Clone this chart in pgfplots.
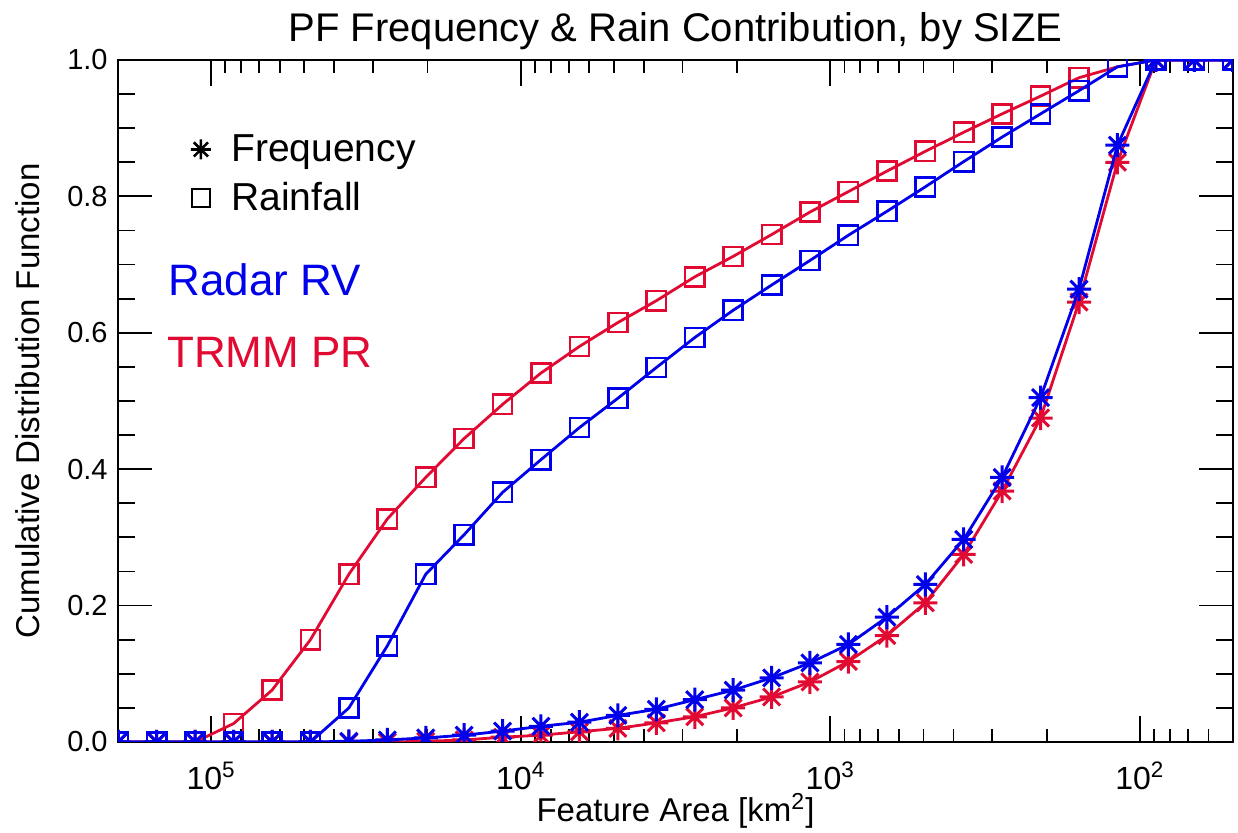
\documentclass[border=0pt]{standalone}
\usepackage{fontspec}
\setmainfont{Liberation Sans}
\usepackage{pgfplots}
\usepackage{pgfplotstable}
\pgfplotsset{compat=1.18}
\definecolor{rvblue}{RGB}{0,0,235}
\definecolor{prred}{RGB}{225,10,50}

\pgfdeclareplotmark{ast8}{%
 \pgfpathmoveto{\pgfqpoint{0pt}{-\pgfplotmarksize}}\pgfpathlineto{\pgfqpoint{0pt}{\pgfplotmarksize}}%
 \pgfpathmoveto{\pgfqpoint{-\pgfplotmarksize}{0pt}}\pgfpathlineto{\pgfqpoint{\pgfplotmarksize}{0pt}}%
 \pgfpathmoveto{\pgfqpoint{-0.707\pgfplotmarksize}{-0.707\pgfplotmarksize}}\pgfpathlineto{\pgfqpoint{0.707\pgfplotmarksize}{0.707\pgfplotmarksize}}%
 \pgfpathmoveto{\pgfqpoint{-0.707\pgfplotmarksize}{0.707\pgfplotmarksize}}\pgfpathlineto{\pgfqpoint{0.707\pgfplotmarksize}{-0.707\pgfplotmarksize}}%
 \pgfusepathqstroke}

\pgfplotstableread{
x       bf     rf     br     rr
199526  0      0      0      0
149920  0      0      0      0
112640  0      0      0      0
84640   0      0      0      0.027
63590   0      0      0      0.076
47777   0      0      0      0.150
35897   0.001  0      0.050  0.246
26971   0.003  0      0.141  0.327
20264   0.006  0.001  0.246  0.388
15225   0.010  0.003  0.304  0.445
11443   0.016  0.007  0.366  0.495
8600    0.023  0.010  0.414  0.541
6460    0.029  0.015  0.461  0.580
4854    0.039  0.020  0.504  0.615
3647    0.048  0.028  0.549  0.647
2740    0.062  0.037  0.593  0.682
2059    0.076  0.050  0.633  0.712
1547    0.094  0.066  0.670  0.744
1163    0.116  0.088  0.706  0.777
873.8   0.143  0.118  0.743  0.807
656.4   0.183  0.156  0.778  0.837
493.2   0.231  0.204  0.814  0.866
370.6   0.297  0.275  0.851  0.894
278.4   0.388  0.368  0.887  0.921
209.2   0.505  0.475  0.921  0.947
157.2   0.664  0.645  0.955  0.974
118.1   0.875  0.850  0.990  0.990
88.77   1      1      1      1
66.70   1      1      1      1
50.12   1      1      1      1
}\cdf

\begin{document}
\begin{tikzpicture}
\begin{axis}[
  name=ax, scale only axis, width=557.5pt, height=341pt,
  xmode=log, x dir=reverse, xmin=50, xmax=2e5, ymin=0, ymax=1,
  clip marker paths=true,
  xtick={1e5,1e4,1e3,1e2},
  xticklabels={10\textsuperscript{5},10\textsuperscript{4},10\textsuperscript{3},10\textsuperscript{2}},
  minor xtick={60,70,80,90,200,300,400,500,600,700,800,900,2000,3000,4000,5000,6000,7000,8000,9000,20000,30000,40000,50000,60000,70000,80000,90000},
  ytick={0,0.2,0.4,0.6,0.8,1.0}, minor y tick num=3,
  /pgf/number format/assume math mode=true,
  yticklabel style={/pgf/number format/fixed, /pgf/number format/fixed zerofill, /pgf/number format/precision=1, anchor=east, inner sep=0pt, xshift=-5pt, font=\fontsize{14.5}{17}\selectfont},
  xticklabel style={anchor=base, yshift=-24pt, font=\fontsize{16}{19}\selectfont},
  tick align=inside,
  axis line style={line width=1pt},
  xtick style={black, line width=0.9pt, /pgfplots/major tick length=13pt, /pgfplots/minor tick length=6.5pt},
  ytick style={black, line width=0.9pt, /pgfplots/major tick length=17pt, /pgfplots/minor tick length=8.5pt},
  title={PF Frequency \& Rain Contribution, by SIZE},
  title style={font=\fontsize{20}{24}\selectfont, at={(axis description cs:0.5,1)}, anchor=base, yshift=3pt},
  xlabel={Feature Area [km\textsuperscript{2}]},
  xlabel style={font=\fontsize{16.5}{20}\selectfont, at={(axis description cs:0.5,0)}, anchor=base, yshift=-40pt},
  ylabel={Cumulative Distribution Function},
  ylabel style={font=\fontsize{16.5}{20}\selectfont, at={(axis description cs:-0.081,0.5)}, anchor=center},
  legend style={at={(axis description cs:0.045,0.903)}, anchor=north west, draw=none, fill=none,
    font=\fontsize{19.5}{23}\selectfont, row sep=5pt},
  legend cell align=left,
  legend image code/.code={\path (0cm,0cm) (0.6cm+8pt,0cm); \draw[#1] plot coordinates {(0.3cm+4pt,0cm)};},
]
\addlegendimage{only marks, mark=ast8, black, mark size=5pt, line width=1.3pt}
\addlegendimage{only marks, mark=square, black, mark size=4.5pt, line width=1.2pt}
\legend{Frequency, Rainfall}

\addplot[prred, line width=1.4pt, mark=square, mark size=4.8pt, mark options={line width=1.3pt}] table[x=x, y=rr] {\cdf};
\addplot[prred, line width=1.4pt, mark=ast8, mark size=6pt, mark options={line width=1.5pt}] table[x=x, y=rf] {\cdf};
\addplot[rvblue, line width=1.4pt, mark=square, mark size=4.8pt, mark options={line width=1.3pt}] table[x=x, y=br] {\cdf};
\addplot[rvblue, line width=1.4pt, mark=ast8, mark size=6pt, mark options={line width=1.5pt}] table[x=x, y=bf] {\cdf};

\node[anchor=west, inner sep=0pt, text=rvblue, font=\fontsize{22}{26}\selectfont] at (axis description cs:0.0448,0.677) {Radar RV};
\node[anchor=west, inner sep=0pt, text=prred, font=\fontsize{22}{26}\selectfont] at (axis description cs:0.0439,0.572) {TRMM PR};
\end{axis}
\pgfresetboundingbox
\path ([xshift=-59pt,yshift=-45.5pt]ax.south west) rectangle ([xshift=2.5pt,yshift=30pt]ax.north east);
\end{tikzpicture}
\end{document}
